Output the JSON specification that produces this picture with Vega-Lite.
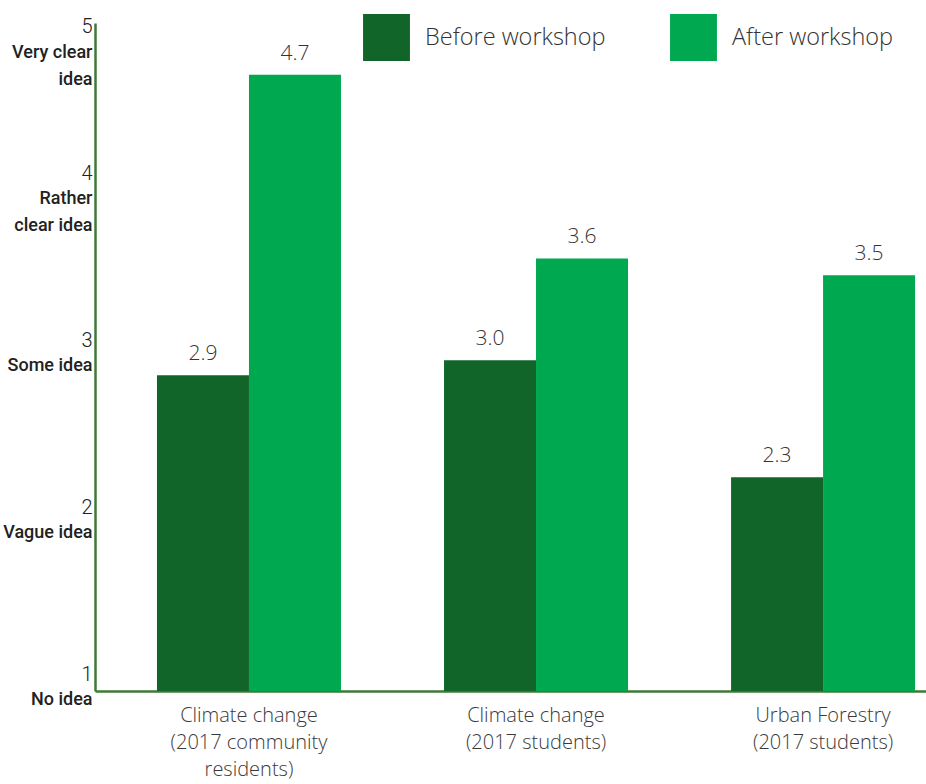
{
  "$schema": "https://vega.github.io/schema/vega-lite/v6.json",
  "autosize": "none",
  "width": 831,
  "height": 668,
  "padding": {"left": 95, "top": 23, "right": 0, "bottom": 93},
  "background": "white",
  "config": {"view": {"stroke": null}},
  "data": {
    "values": [
      {"group": "Climate change (2017 community residents)", "series": "Before workshop", "value": 2.89},
      {"group": "Climate change (2017 community residents)", "series": "After workshop", "value": 4.69},
      {"group": "Climate change (2017 students)", "series": "Before workshop", "value": 2.98},
      {"group": "Climate change (2017 students)", "series": "After workshop", "value": 3.59},
      {"group": "Urban Forestry (2017 students)", "series": "Before workshop", "value": 2.28},
      {"group": "Urban Forestry (2017 students)", "series": "After workshop", "value": 3.49}
    ]
  },
  "encoding": {
    "x": {
      "field": "group",
      "type": "nominal",
      "sort": null,
      "scale": {"paddingInner": 0.359, "paddingOuter": 0.127, "align": 0.85},
      "axis": {
        "title": null,
        "domainColor": "#3e7a36",
        "domainWidth": 2.5,
        "ticks": false,
        "labelAngle": 0,
        "labelFont": "Open Sans",
        "labelFontWeight": 300,
        "labelFontSize": 20,
        "labelColor": "#3a3a3a",
        "labelBaseline": "top",
        "labelLineHeight": 27,
        "labelPadding": 14,
        "labelLimit": 400,
        "labelExpr": "datum.value == 'Climate change (2017 community residents)' ? ['Climate change','(2017 community','residents)'] : [slice(datum.value, 0, 14), slice(datum.value, 15)]"
      }
    },
    "xOffset": {"field": "series", "type": "nominal", "sort": ["Before workshop", "After workshop"]}
  },
  "layer": [
    {
      "mark": {"type": "bar"},
      "encoding": {
        "y": {
          "field": "value",
          "type": "quantitative",
          "scale": {"domain": [1, 5], "zero": false, "nice": false},
          "axis": {
            "title": null,
            "orient": "left",
            "values": [1, 2, 3, 4, 5],
            "grid": false,
            "ticks": false,
            "domainColor": "#3e7a36",
            "domainWidth": 2.5,
            "labelFont": "Roboto",
            "labelFontWeight": 500,
            "labelFontSize": 18,
            "labelColor": "#222222",
            "labelAlign": "right",
            "labelBaseline": "top",
            "labelLineHeight": 27,
            "labelPadding": 3,
            "labelLimit": 200,
            "labelOffset": {"condition": {"test": "datum.value == 5", "value": 20}, "value": -1},
            "labelExpr": "datum.value == 5 ? ['Very clear','idea'] : datum.value == 4 ? ['Rather','clear idea'] : datum.value == 3 ? 'Some idea' : datum.value == 2 ? 'Vague idea' : 'No idea'"
          }
        },
        "y2": {"datum": 1},
        "color": {
          "field": "series",
          "type": "nominal",
          "sort": ["Before workshop", "After workshop"],
          "scale": {"domain": ["Before workshop", "After workshop"], "range": ["#116529", "#00a84f"]},
          "legend": {
            "title": null,
            "orient": "none",
            "direction": "horizontal",
            "legendX": 268,
            "legendY": -9,
            "symbolType": "square",
            "symbolSize": 2200,
            "symbolStrokeWidth": 0,
            "labelFont": "Open Sans",
            "labelFontWeight": 300,
            "labelFontSize": 23.5,
            "labelColor": "#333333",
            "labelOffset": 15,
            "columnPadding": 64,
            "labelLimit": 300
          }
        }
      }
    },
    {
      "mark": {"type": "text", "font": "Open Sans", "fontWeight": 300, "fontSize": 21, "color": "#333333", "baseline": "alphabetic", "dy": -15},
      "encoding": {
        "y": {
          "field": "value",
          "type": "quantitative",
          "scale": {"domain": [1, 5], "zero": false, "nice": false},
          "axis": {
            "title": null,
            "orient": "left",
            "values": [1, 2, 3, 4, 5],
            "grid": false,
            "ticks": false,
            "domain": false,
            "labelFont": "Roboto",
            "labelFontWeight": 300,
            "labelFontSize": 20,
            "labelColor": "#222222",
            "labelAlign": "right",
            "labelBaseline": "middle",
            "labelPadding": 3,
            "labelOffset": {"condition": {"test": "datum.value == 5", "value": 3}, "value": -17},
            "format": "d"
          }
        },
        "text": {"field": "value", "type": "quantitative", "format": ".1f"}
      }
    }
  ],
  "resolve": {"scale": {"y": "independent"}}
}
